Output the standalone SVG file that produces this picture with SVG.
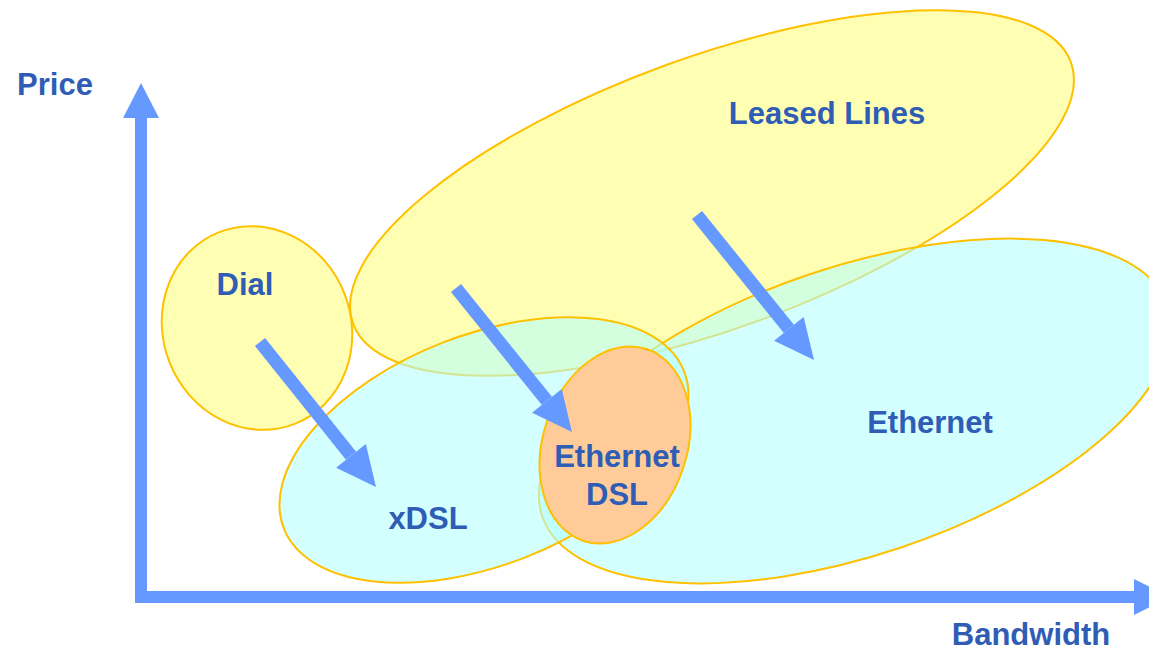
<svg xmlns="http://www.w3.org/2000/svg" width="1149" height="650" viewBox="0 0 1149 650">
<style>
.lbl{font-family:"Liberation Sans",Arial,sans-serif;font-weight:bold;font-size:31px;fill:#2F5DB5;text-anchor:middle}
.yel{fill:#FFFF80;fill-opacity:0.6;stroke:#FFC000;stroke-width:2}
.cyn{fill:#B3FFFF;fill-opacity:0.58;stroke:#FFC000;stroke-width:2}
.org{fill:#FFCC99;stroke:#FFC000;stroke-width:2}
.arr{stroke:#6699FF;stroke-width:13;fill:none;marker-end:url(#ah)}
.axis{stroke:#6699FF;stroke-width:12;fill:none;stroke-linejoin:miter}
.head{fill:#6699FF}
</style>
<defs>
<marker id="ah" markerUnits="userSpaceOnUse" markerWidth="40" markerHeight="38" refX="0" refY="19" orient="auto" overflow="visible">
<path d="M0,0 L40,19 L0,38 Z" fill="#6699FF"/>
</marker>
</defs>
<rect width="1149" height="650" fill="#FFFFFF"/>
<g id="leased-lines">
<ellipse class="yel" cx="712" cy="193" rx="382" ry="136" transform="rotate(-20 712 193)"/>
<text class="lbl" x="827" y="124">Leased Lines</text>
</g>
<g id="ethernet">
<ellipse class="cyn" cx="855" cy="411" rx="330" ry="144" transform="rotate(-18.6 855 411)"/>
<text class="lbl" x="930" y="433">Ethernet</text>
</g>
<g id="xdsl">
<ellipse class="cyn" cx="484" cy="450" rx="215" ry="115" transform="rotate(-21.4 484 450)"/>
<text class="lbl" x="428" y="529">xDSL</text>
</g>
<g id="dial">
<ellipse class="yel" cx="257" cy="328" rx="94" ry="103" transform="rotate(-21.5 257 328)"/>
<text class="lbl" x="245" y="295">Dial</text>
</g>
<g id="ethernet-dsl">
<ellipse class="org" cx="615" cy="445" rx="72" ry="101" transform="rotate(18.2 615 445)"/>
<text class="lbl" x="617" y="467">Ethernet</text>
<text class="lbl" x="617" y="505">DSL</text>
</g>
<g id="connectors">
<path class="axis" d="M141,118 L141,597 L1134,597"/>
<polygon class="head" points="123,118 159,118 141,83"/>
<polygon class="head" points="1134,579 1134,615 1170,597"/>
<line class="arr" x1="260" y1="342" x2="351" y2="455.8"/>
<line class="arr" x1="456" y1="288" x2="546.9" y2="400.8"/>
<line class="arr" x1="697" y1="215" x2="788.9" y2="328.9"/>
</g>
<g id="axis-labels">
<text class="lbl" x="55" y="95">Price</text>
<text class="lbl" x="1031" y="645">Bandwidth</text>
</g>
</svg>
